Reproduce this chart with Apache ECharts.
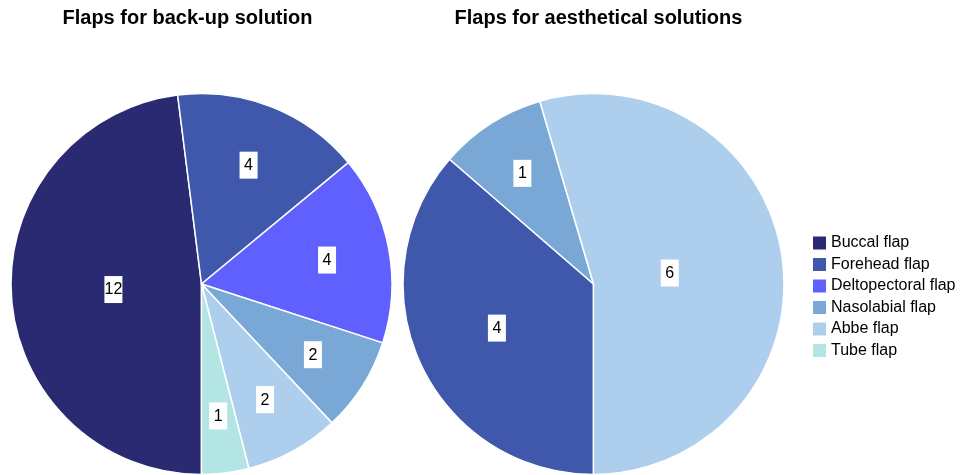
<!DOCTYPE html>
<html>
<head>
<meta charset="utf-8">
<script src="https://cdn.jsdelivr.net/npm/echarts@6/dist/echarts.min.js"></script>
<style>
html,body{margin:0;padding:0;background:#fff;}
#chart{width:962px;height:475px;}
</style>
</head>
<body>
<div id="chart"></div>
<script>
const categories = ['Buccal flap', 'Forehead flap', 'Deltopectoral flap', 'Nasolabial flap', 'Abbe flap', 'Tube flap'];
const colors = ['#2a2a72', '#3f58ac', '#6060ff', '#7aa8d6', '#aeceed', '#b3e5e5'];
const backupNames = ['Buccal flap', 'Forehead flap', 'Deltopectoral flap', 'Nasolabial flap', 'Abbe flap', 'Tube flap'];
const backupValues = [12, 4, 4, 2, 2, 1];
const aestheticNames = ['Forehead flap', 'Nasolabial flap', 'Abbe flap'];
const aestheticValues = [4, 1, 6];
const titles = ['Flaps for back-up solution', 'Flaps for aesthetical solutions'];

const FONT = "'Liberation Sans', Arial, sans-serif";
const chart = echarts.init(document.getElementById('chart'), null, {renderer: 'canvas'});

function buildData(names, values) {
  return names.map((n, i) => ({
    name: n,
    value: values[i],
    itemStyle: {color: colors[categories.indexOf(n)]}
  }));
}

function centroidLayout(params) {
  const data = chart.getModel().getSeriesByIndex(params.seriesIndex).getData();
  const l = data.getItemLayout(params.dataIndex);
  if (!l) return {};
  const a = Math.abs(l.endAngle - l.startAngle) / 2;
  const mid = (l.startAngle + l.endAngle) / 2;
  const d = 1.05 * (a > 1e-6 ? (2 * l.r * Math.sin(a)) / (3 * a) : l.r * 2 / 3);
  return {
    x: l.cx + d * Math.cos(mid),
    y: l.cy + d * Math.sin(mid),
    align: 'center',
    verticalAlign: 'middle'
  };
}

const labelStyle = {
  show: true,
  position: 'inside',
  formatter: '{b|{c}}',
  overflow: 'none',
  rich: {
    b: {
      color: '#000',
      fontSize: 16,
      fontFamily: FONT,
      backgroundColor: '#fff',
      width: 18,
      height: 16,
      lineHeight: 16,
      padding: [6, 0, 5, 0],
      align: 'center'
    }
  }
};

function pieSeries(names, values, center) {
  return {
    type: 'pie',
    radius: 190.5,
    center: center,
    startAngle: -90,
    clockwise: true,
    animation: false,
    silent: true,
    avoidLabelOverlap: false,
    itemStyle: {borderColor: '#fff', borderWidth: 1.5},
    label: labelStyle,
    labelLine: {show: false},
    labelLayout: centroidLayout,
    emphasis: {disabled: true},
    data: buildData(names, values)
  };
}

chart.setOption({
  backgroundColor: '#fff',
  animation: false,
  title: [
    {text: titles[0], left: 187.5, top: 8, textAlign: 'center', padding: 0,
     textStyle: {fontSize: 20, fontWeight: 'bold', color: '#000', fontFamily: FONT}},
    {text: titles[1], left: 598.5, top: 8, textAlign: 'center', padding: 0,
     textStyle: {fontSize: 20, fontWeight: 'bold', color: '#000', fontFamily: FONT}}
  ],
  legend: {
    orient: 'vertical',
    left: 813,
    top: 235,
    padding: 0,
    itemWidth: 13,
    itemHeight: 13,
    itemGap: 5.5,
    icon: 'rect',
    itemStyle: {borderWidth: 0},
    selectedMode: false,
    data: categories,
    textStyle: {fontSize: 16, color: '#000', fontFamily: FONT}
  },
  series: [
    pieSeries(backupNames, backupValues, [201.5, 284]),
    pieSeries(aestheticNames, aestheticValues, [593.5, 284])
  ]
});
</script>
</body>
</html>
